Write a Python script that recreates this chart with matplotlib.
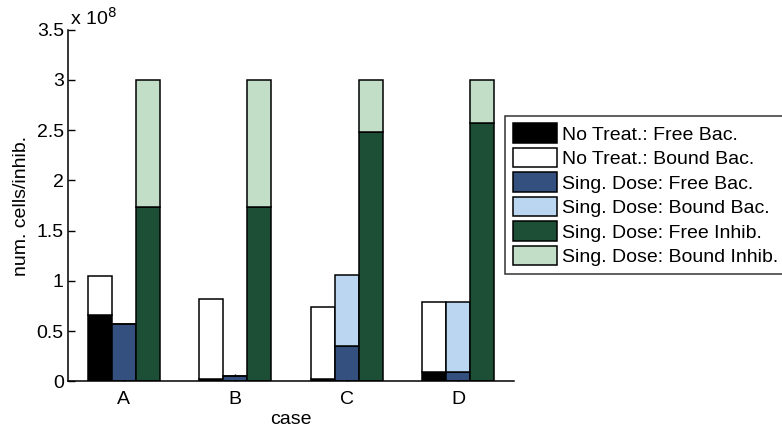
import matplotlib
matplotlib.use("Agg")
import matplotlib.pyplot as plt
import numpy as np
from matplotlib.ticker import FuncFormatter

plt.rcParams['font.family'] = ['Liberation Sans', 'DejaVu Sans']

cases = ["A", "B", "C", "D"]

# counts per case (cells or inhibitor molecules)
no_treat_free_bac = [0.66e8, 0.02e8, 0.02e8, 0.09e8]
no_treat_bound_bac = [0.39e8, 0.80e8, 0.72e8, 0.70e8]
sing_dose_free_bac = [0.575e8, 0.055e8, 0.35e8, 0.09e8]
sing_dose_bound_bac = [0.0, 0.0, 0.71e8, 0.70e8]
sing_dose_free_inhib = [1.735e8, 1.735e8, 2.485e8, 2.57e8]
sing_dose_bound_inhib = [1.265e8, 1.265e8, 0.515e8, 0.43e8]

labels = ["No Treat.: Free Bac.", "No Treat.: Bound Bac.",
          "Sing. Dose: Free Bac.", "Sing. Dose: Bound Bac.",
          "Sing. Dose: Free Inhib.", "Sing. Dose: Bound Inhib."]
colors = ["#000000", "#FFFFFF", "#34507F", "#BBD6F1", "#1C4F35", "#C2DEC7"]

yticks = [0, 0.5e8, 1e8, 1.5e8, 2e8, 2.5e8, 3e8, 3.5e8]

FS = 14

fig = plt.figure(figsize=(7.82, 4.34), dpi=100)
ax = fig.add_axes([0.087, 0.121, 0.570, 0.811])
ax.set_axisbelow(True)

x = np.arange(1, len(cases) + 1)
w = 0.216
edge = dict(edgecolor="black", linewidth=1.1)

h = []
h.append(ax.bar(x - w, no_treat_free_bac, w, color=colors[0], **edge))
h.append(ax.bar(x - w, no_treat_bound_bac, w, bottom=no_treat_free_bac, color=colors[1], **edge))
h.append(ax.bar(x, sing_dose_free_bac, w, color=colors[2], **edge))
h.append(ax.bar(x, sing_dose_bound_bac, w, bottom=sing_dose_free_bac, color=colors[3], **edge))
h.append(ax.bar(x + w, sing_dose_free_inhib, w, color=colors[4], **edge))
h.append(ax.bar(x + w, sing_dose_bound_inhib, w, bottom=sing_dose_free_inhib, color=colors[5], **edge))

ax.set_xlim(0.5, 4.5)
ax.set_ylim(0, 3.5e8)
ax.set_xticks(x)
ax.set_xticklabels(cases)
ax.set_yticks(yticks)
ax.yaxis.set_major_formatter(FuncFormatter(lambda v, p: "%g" % (v / 1e8)))
ax.tick_params(direction="in", labelsize=FS, length=5, width=1.0, pad=3)
ax.tick_params(axis="x", pad=7)

for s in ["top", "right"]:
    ax.spines[s].set_visible(False)
for s in ["left", "bottom"]:
    ax.spines[s].set_linewidth(1.1)

ax.set_xlabel("case", fontsize=FS, labelpad=2)
ax.set_ylabel("num. cells/inhib.", fontsize=FS, labelpad=5)
fig.text(0.089, 0.958, r"x 10$^{8}$", fontsize=FS, ha="left", va="center")

leg = fig.legend(h, labels, loc="upper left", bbox_to_anchor=(505 / 782, 1 - 115.5 / 434),
                 fontsize=FS, frameon=True, fancybox=False, edgecolor="black",
                 handlelength=2.25, handleheight=1.15, handletextpad=0.3,
                 labelspacing=0.22, borderpad=0.4, borderaxespad=0)
leg.get_frame().set_linewidth(1.1)

fig.savefig("out.png", dpi=100)
